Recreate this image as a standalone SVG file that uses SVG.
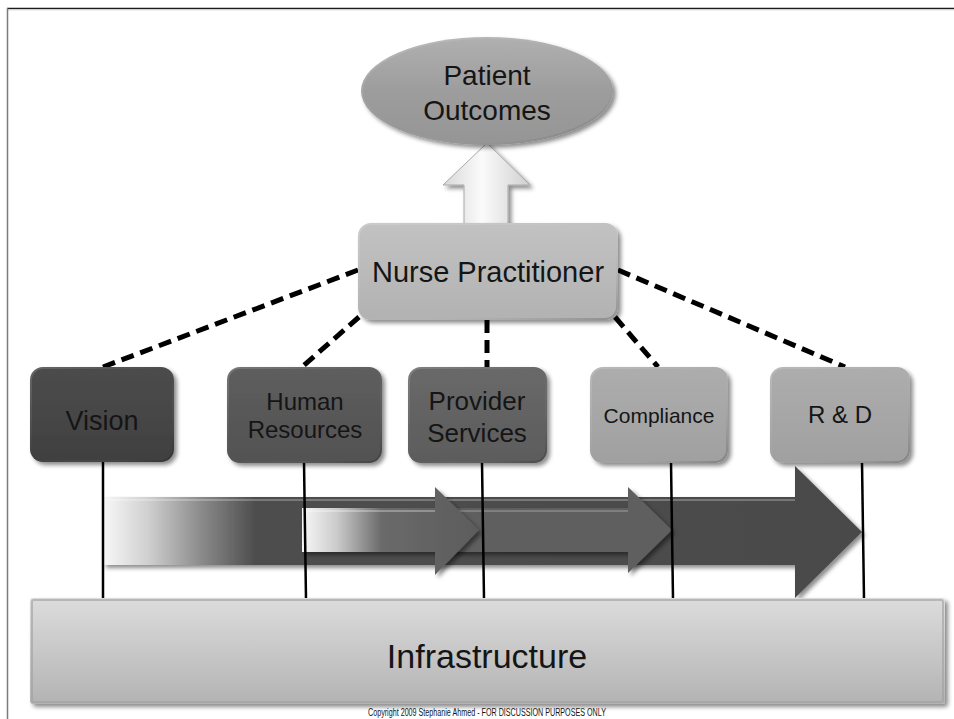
<svg xmlns="http://www.w3.org/2000/svg" width="954" height="719" viewBox="0 0 954 719">
<defs>
  <style>
    text { font-family: "Liberation Sans", Arial, sans-serif; fill: #151515; text-anchor: middle; }
    .dash { stroke: #000; stroke-width: 5; stroke-dasharray: 13 7; fill: none; }
    .vline { stroke: #000; stroke-width: 2.5; fill: none; }
    .bevel { fill: none; stroke: url(#bevel); stroke-width: 2; }
  </style>
  <filter id="shadow" x="-10%" y="-10%" width="125%" height="130%">
    <feDropShadow dx="3" dy="3" stdDeviation="2" flood-color="#000" flood-opacity="0.45"/>
  </filter>
  <linearGradient id="bevel" x1="0" y1="0" x2="1" y2="1">
    <stop offset="0" stop-color="#fff" stop-opacity="0.15"/>
    <stop offset="0.5" stop-color="#fff" stop-opacity="0"/>
    <stop offset="1" stop-color="#000" stop-opacity="0.2"/>
  </linearGradient>
  <linearGradient id="gVision" x1="0" y1="0" x2="0" y2="1">
    <stop offset="0" stop-color="#4c4c4c"/><stop offset="1" stop-color="#404040"/>
  </linearGradient>
  <linearGradient id="gHR" x1="0" y1="0" x2="0" y2="1">
    <stop offset="0" stop-color="#5e5e5e"/><stop offset="1" stop-color="#525252"/>
  </linearGradient>
  <linearGradient id="gPS" x1="0" y1="0" x2="0" y2="1">
    <stop offset="0" stop-color="#696969"/><stop offset="1" stop-color="#5c5c5c"/>
  </linearGradient>
  <linearGradient id="gLight" x1="0" y1="0" x2="0" y2="1">
    <stop offset="0" stop-color="#adadad"/><stop offset="1" stop-color="#a0a0a0"/>
  </linearGradient>
  <linearGradient id="gNurse" x1="0" y1="0" x2="0" y2="1">
    <stop offset="0" stop-color="#c2c2c2"/><stop offset="1" stop-color="#b2b2b2"/>
  </linearGradient>
  <linearGradient id="gEllipse" x1="0" y1="0" x2="0" y2="1">
    <stop offset="0" stop-color="#b0b0b0"/><stop offset="0.5" stop-color="#9d9d9d"/><stop offset="1" stop-color="#959595"/>
  </linearGradient>
  <linearGradient id="gInfra" x1="0" y1="0" x2="0" y2="1">
    <stop offset="0" stop-color="#dcdcdc"/><stop offset="1" stop-color="#b3b3b3"/>
  </linearGradient>
  <linearGradient id="gUp" x1="0" y1="0" x2="1" y2="0">
    <stop offset="0" stop-color="#d8d8d8"/><stop offset="0.45" stop-color="#fbfbfb"/><stop offset="1" stop-color="#cfcfcf"/>
  </linearGradient>
  <linearGradient id="gArrowA" gradientUnits="userSpaceOnUse" x1="103" y1="0" x2="862" y2="0">
    <stop offset="0" stop-color="#f8f8f8"/>
    <stop offset="0.06" stop-color="#cfcfcf"/>
    <stop offset="0.13" stop-color="#8a8a8a"/>
    <stop offset="0.2" stop-color="#4e4e4e"/>
    <stop offset="1" stop-color="#4a4a4a"/>
  </linearGradient>
  <linearGradient id="gArrowB" gradientUnits="userSpaceOnUse" x1="302" y1="0" x2="479" y2="0">
    <stop offset="0" stop-color="#f8f8f8"/>
    <stop offset="0.2" stop-color="#cacaca"/>
    <stop offset="0.45" stop-color="#6a6a6a"/>
    <stop offset="1" stop-color="#5c5c5c"/>
  </linearGradient>
</defs>

<rect x="0" y="0" width="954" height="719" fill="#fff"/>
<!-- frame -->
<line x1="7" y1="8.5" x2="954" y2="8.5" stroke="#1a1a1a" stroke-width="1.5"/>
<line x1="7" y1="10" x2="954" y2="10" stroke="#dddddd" stroke-width="1"/>
<line x1="7.5" y1="8" x2="7.5" y2="719" stroke="#7a7a7a" stroke-width="1.5"/>

<!-- flow arrows -->
<g id="flow-arrows">
  <polygon points="103,497 795,497 795,466 862,532 795,598 795,565 103,565" fill="url(#gArrowA)" filter="url(#shadow)"/>
  <line x1="104" y1="500" x2="795" y2="500" stroke="#fff" stroke-opacity="0.25" stroke-width="2"/>
  <polygon points="440,508 628,508 628,487 672,530 628,573 628,552 440,552" fill="#5e5e5e" filter="url(#shadow)"/>
  <line x1="440" y1="511" x2="628" y2="511" stroke="#fff" stroke-opacity="0.2" stroke-width="2"/>
  <polygon points="302,508 435,508 435,487 479,530 435,575 435,552 302,552" fill="url(#gArrowB)" filter="url(#shadow)"/>
  <line x1="303" y1="511" x2="435" y2="511" stroke="#fff" stroke-opacity="0.3" stroke-width="2"/>
</g>

<!-- connectors -->
<g id="connectors">
  <line class="dash" x1="358" y1="270" x2="103" y2="367"/>
  <line class="dash" x1="359" y1="317" x2="302" y2="367"/>
  <line class="dash" x1="487" y1="320" x2="487" y2="367"/>
  <line class="dash" x1="615" y1="317" x2="658" y2="367"/>
  <line class="dash" x1="618" y1="270" x2="845" y2="367"/>
  <line class="vline" x1="103" y1="462" x2="103" y2="599"/>
  <line class="vline" x1="304" y1="462" x2="306" y2="599"/>
  <line class="vline" x1="482" y1="462" x2="484" y2="599"/>
  <line class="vline" x1="671" y1="462" x2="673" y2="599"/>
  <line class="vline" x1="862" y1="462" x2="864" y2="599"/>
  <polygon id="up-arrow" points="487,143 530,185 508,185 508,228 464,228 464,185 443,185" fill="url(#gUp)" stroke="#a8a8a8" stroke-width="1" filter="url(#shadow)"/>
</g>

<g id="patient-outcomes">
  <ellipse cx="487" cy="91" rx="126" ry="54" fill="url(#gEllipse)" filter="url(#shadow)"/>
  <ellipse cx="487" cy="91" rx="125" ry="53" class="bevel"/>
  <text x="487" y="85" font-size="28">Patient</text>
  <text x="487" y="120" font-size="28">Outcomes</text>
</g>

<g id="nurse-practitioner">
  <rect x="358" y="223" width="260" height="97" rx="13" fill="url(#gNurse)" filter="url(#shadow)"/>
  <rect x="359" y="224" width="258" height="95" rx="12" class="bevel"/>
  <text x="488" y="282" font-size="29">Nurse Practitioner</text>
</g>

<g id="vision">
  <rect x="30" y="367" width="144" height="95" rx="13" fill="url(#gVision)" filter="url(#shadow)"/>
  <rect x="31" y="368" width="142" height="93" rx="12" class="bevel"/>
  <text x="102" y="430" font-size="27">Vision</text>
</g>

<g id="human-resources">
  <rect x="227" y="367" width="155" height="96" rx="13" fill="url(#gHR)" filter="url(#shadow)"/>
  <rect x="228" y="368" width="153" height="94" rx="12" class="bevel"/>
  <text x="305" y="410" font-size="24">Human</text>
  <text x="305" y="438" font-size="24">Resources</text>
</g>

<g id="provider-services">
  <rect x="408" y="367" width="139" height="96" rx="13" fill="url(#gPS)" filter="url(#shadow)"/>
  <rect x="409" y="368" width="137" height="94" rx="12" class="bevel"/>
  <text x="477" y="410" font-size="26">Provider</text>
  <text x="477" y="442" font-size="26">Services</text>
</g>

<g id="compliance">
  <rect x="590" y="367" width="138" height="96" rx="13" fill="url(#gLight)" filter="url(#shadow)"/>
  <rect x="591" y="368" width="136" height="94" rx="12" class="bevel"/>
  <text x="659" y="423" font-size="21">Compliance</text>
</g>

<g id="rd">
  <rect x="770" y="367" width="140" height="96" rx="13" fill="url(#gLight)" filter="url(#shadow)"/>
  <rect x="771" y="368" width="138" height="94" rx="12" class="bevel"/>
  <text x="840" y="423" font-size="24">R &amp; D</text>
</g>

<g id="infrastructure">
  <rect x="30" y="598" width="915" height="106" rx="3" fill="url(#gInfra)" filter="url(#shadow)"/>
  <rect x="32" y="600" width="911" height="102" rx="2" fill="none" stroke="#9f9f9f" stroke-width="2" stroke-opacity="0.6"/>
  <text x="487" y="668" font-size="34">Infrastructure</text>
</g>

<text x="487" y="716" font-size="10" textLength="238" lengthAdjust="spacingAndGlyphs">Copyright 2009 Stephanie Ahmed - FOR DISCUSSION PURPOSES ONLY</text>
</svg>
